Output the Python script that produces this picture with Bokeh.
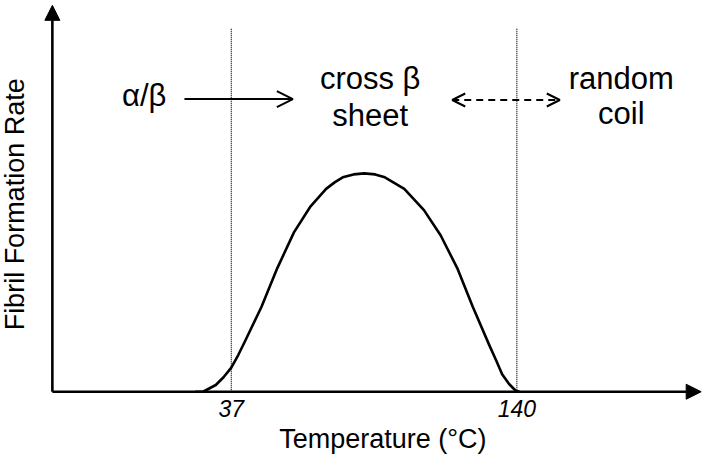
from bokeh.plotting import figure
from bokeh.models import Range1d, Arrow, NormalHead, OpenHead
from bokeh.core.properties import value
from bokeh.embed import file_html
from bokeh.resources import INLINE

# ---- data ----
temperature = [24.0, 26.8, 31.4, 34.2, 37.0, 39.5, 41.9, 47.9, 53.6, 59.6, 65.6, 71.2,
               74.4, 77.2, 81.1, 85.0, 88.9, 92.4, 95.9, 99.4, 106.5, 112.5, 118.5,
               124.1, 130.1, 132.6, 134.7, 137.2, 139.6, 141.0]
rate = [0, 0, 7, 15, 25, 38, 52, 88, 128, 165, 192, 210,
        217, 222, 225, 226, 225, 222, 216, 210, 188, 162, 128,
        88, 48, 32, 18, 8, 1, 0]
transition_temps = [37, 140]
tick_values = [37, 140]
tick_labels = ["37", "140"]
x_title = "Temperature (°C)"
y_title = "Fibril Formation Rate"

# annotation texts and anchor points (data units)
phase_text = ["α/β", "cross β", "sheet", "random", "coil"]
phase_x = [5.6, 87.1, 87.1, 177.7, 177.7]
phase_y = [306.4, 324.4, 286.4, 324.4, 288.4]

axis_origin_x = -27.55
x_axis_end = 206.5
y_axis_end = 400
guide_top = 376
solid_arrow = dict(x0=20.1, x1=59.2, y=303)
dashed_arrow = dict(x0=116.7, x1=155.5, y=302)

FONT = value("Liberation Sans")

p = figure(width=704, height=455,
           x_range=Range1d(-46.26, 207.7), y_range=Range1d(-66, 405),
           output_backend="svg", toolbar_location=None,
           x_axis_location=None, y_axis_location=None, min_border=0)
p.grid.visible = False
p.outline_line_color = None
p.background_fill_color = "white"
p.border_fill_color = "white"

# dotted transition guides
p.segment(x0=transition_temps, y0=[0] * len(transition_temps),
          x1=transition_temps, y1=[guide_top] * len(transition_temps),
          line_color="black", line_width=1.2, line_dash="1 1")

# curve
p.line(temperature, rate, line_color="black", line_width=2.6, line_join="round")

# axes with arrowheads
p.add_layout(Arrow(end=NormalHead(size=15, fill_color="black", line_color="black"),
                   x_start=axis_origin_x, y_start=0, x_end=axis_origin_x, y_end=y_axis_end,
                   line_width=2.6, line_color="black"))
p.add_layout(Arrow(end=NormalHead(size=15, fill_color="black", line_color="black"),
                   x_start=axis_origin_x, y_start=0, x_end=x_axis_end, y_end=0,
                   line_width=2.6, line_color="black"))

# transition arrows
p.add_layout(Arrow(end=OpenHead(size=16, line_width=2, line_color="black"),
                   x_start=solid_arrow["x0"], y_start=solid_arrow["y"],
                   x_end=solid_arrow["x1"], y_end=solid_arrow["y"],
                   line_width=2, line_color="black"))
p.add_layout(Arrow(start=OpenHead(size=13, line_width=2, line_color="black"),
                   end=OpenHead(size=13, line_width=2, line_color="black"),
                   x_start=dashed_arrow["x0"], y_start=dashed_arrow["y"],
                   x_end=dashed_arrow["x1"], y_end=dashed_arrow["y"],
                   line_width=2, line_color="black", line_dash="7 5"))

# phase labels
p.text(x=phase_x, y=phase_y, text=phase_text, text_font=FONT, text_font_size="31px",
       text_align="center", text_baseline="alphabetic", text_color="black")

# tick labels
p.text(x=tick_values, y=[-17.7] * len(tick_values), text=tick_labels, text_font=FONT,
       text_font_size="23px", text_font_style="italic", text_align="center",
       text_baseline="alphabetic", text_color="black")

# axis titles
p.text(x=[91.7], y=[-48.7], text=[x_title], text_font=FONT, text_font_size="27px",
       text_align="center", text_baseline="alphabetic", text_color="black")
p.text(x=[-41.0], y=[194], text=[y_title], angle=1.5708, text_font=FONT,
       text_font_size="27px", text_align="center", text_baseline="alphabetic",
       text_color="black")

open("out.html", "w").write(file_html(p, INLINE))
